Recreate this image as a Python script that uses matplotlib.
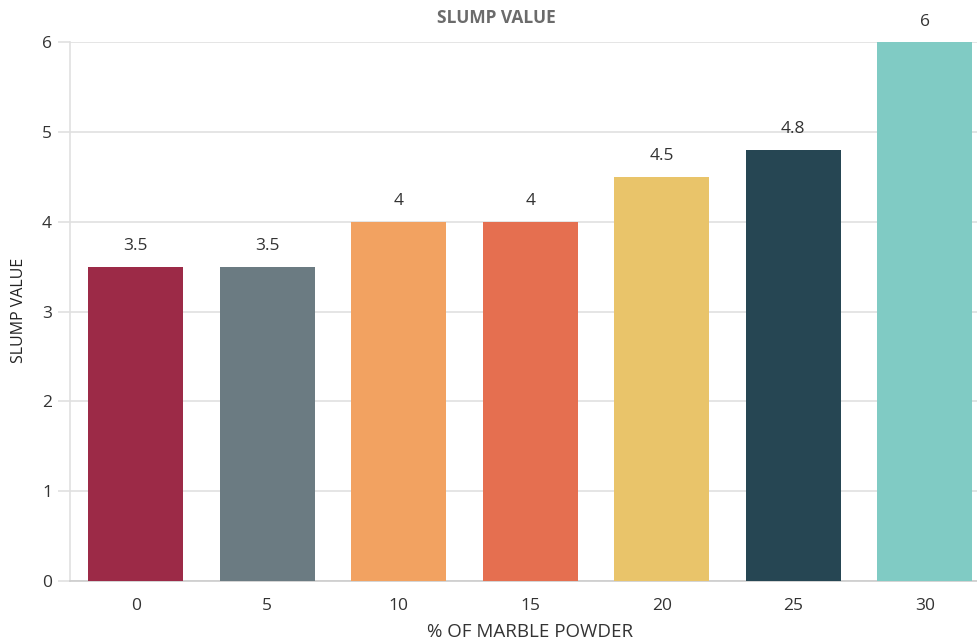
import matplotlib
matplotlib.use("Agg")
import matplotlib.pyplot as plt

# Slump test results by marble powder replacement
marble_pct = ["0", "5", "10", "15", "20", "25", "30"]
slump = [3.5, 3.5, 4, 4, 4.5, 4.8, 6]
value_labels = ["3.5", "3.5", "4", "4", "4.5", "4.8", "6"]
bar_colors = ["#9C2A47", "#6B7B82", "#F2A261", "#E56F50", "#E9C46A", "#264653", "#80CBC4"]
y_ticks = [0, 1, 2, 3, 4, 5, 6]

plt.rcParams["font.family"] = ["Open Sans", "DejaVu Sans"]

W, H = 977, 642
fig = plt.figure(figsize=(W / 100, H / 100), dpi=100)
left, right, bottom, top = 70, 990.5, 61, 600
ax = fig.add_axes([left / W, bottom / H, (right - left) / W, (top - bottom) / H])

x = range(len(marble_pct))
ax.bar(x, slump, width=0.72, color=bar_colors, zorder=3)
for xi, v, lab in zip(x, slump, value_labels):
    ax.annotate(lab, (xi, v), xytext=(0, 9), textcoords="offset points",
                ha="center", va="bottom", fontsize=12.5, color="#333333")

ax.set_xlim(-0.5, 6.5)
ax.set_ylim(0, 6)
ax.set_xticks(list(x))
ax.set_xticklabels(marble_pct)
ax.set_yticks(y_ticks)
ax.grid(axis="y", color="#e0e0e0", linewidth=1.2, zorder=0)

for s in ["top", "right"]:
    ax.spines[s].set_visible(False)
ax.spines["left"].set_color("#e0e0e0")
ax.spines["left"].set_linewidth(1.2)
ax.spines["bottom"].set_color("#cccccc")
ax.spines["bottom"].set_linewidth(1.2)

ax.tick_params(axis="y", length=9, width=1.2, color="#e0e0e0", labelsize=12.5,
               labelcolor="#333333", pad=4)
ax.tick_params(axis="x", length=0, labelsize=12.5, labelcolor="#333333", pad=12)

ax.set_xlabel("% OF MARBLE POWDER", fontsize=13.5, color="#333333")
ax.xaxis.set_label_coords(0.5, -(632 - 581) / (top - bottom), transform=ax.transAxes)
ax.xaxis.label.set_va("center")
ax.set_ylabel("SLUMP VALUE", fontsize=11.5, color="#222222")
ax.yaxis.set_label_coords(-(70 - 19) / (right - left), (581 - 310) / (top - bottom),
                          transform=ax.transAxes)
ax.yaxis.label.set_va("center")
fig.text(496 / W, 1 - 18 / H, "SLUMP VALUE", ha="center", va="center",
         fontsize=12.5, fontweight="bold", color="#6b6b6b")

fig.savefig("out.png", dpi=100)
